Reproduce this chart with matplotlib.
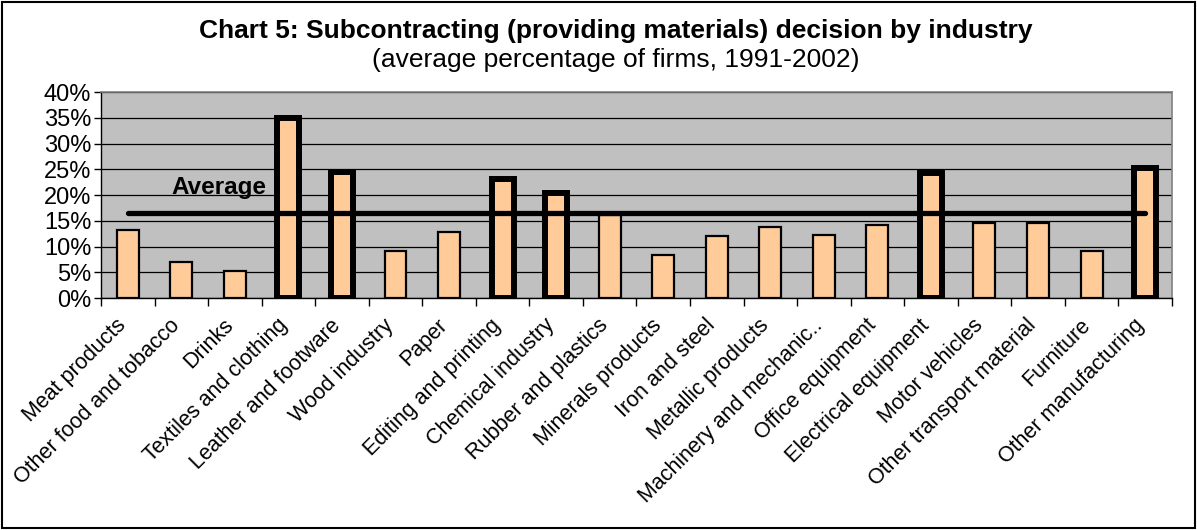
import numpy as np
import matplotlib.pyplot as plt
from matplotlib.patches import Rectangle
from matplotlib.ticker import FuncFormatter, MultipleLocator
from matplotlib.transforms import ScaledTranslation

plt.rcParams['font.family'] = ['Liberation Sans', 'DejaVu Sans']

industries = ['Meat products', 'Other food and tobacco', 'Drinks', 'Textiles and clothing',
              'Leather and footware', 'Wood industry', 'Paper', 'Editing and printing',
              'Chemical industry', 'Rubber and plastics', 'Minerals products', 'Iron and steel',
              'Metallic products', 'Machinery and mechanic..', 'Office equipment',
              'Electrical equipment', 'Motor vehicles', 'Other transport material',
              'Furniture', 'Other manufacturing']
share = [13.2, 7.0, 5.2, 35.0, 24.5, 9.1, 12.8, 23.1, 20.4, 16.1,
         8.3, 12.0, 13.8, 12.3, 14.1, 24.2, 14.6, 14.6, 9.1, 25.2]
average = 16.6

x = np.arange(len(industries))
above = [v > average for v in share]

fig = plt.figure(figsize=(11.97, 5.30), dpi=100)
ax = fig.add_axes([0.0844, 0.4377, 0.8946, 0.3887])
ax.set_facecolor('#C0C0C0')
ax.set_axisbelow(True)
ax.yaxis.grid(True, color='black', linewidth=0.9)

for xi, v, big in zip(x, share, above):
    ax.bar(xi, v, width=0.41, color='#FFCC99', edgecolor='black',
           linewidth=4.3 if big else 1.6, zorder=2)

ax.plot(x, [average] * len(x), color='black', linewidth=3.8,
        solid_capstyle='round', zorder=3)
ax.text(0.82, 20.2, 'Average', fontsize=17.5, fontweight='bold', va='baseline', zorder=4)

ax.set_xlim(-0.5, len(x) - 0.5)
ax.set_ylim(0, 40)
ax.yaxis.set_major_locator(MultipleLocator(5))
ax.yaxis.set_major_formatter(FuncFormatter(lambda v, p: f'{v:.0f}%'))
ax.tick_params(axis='y', labelsize=17, length=5, width=1, direction='out', pad=2)

ax.set_xticks(x)
ax.set_xticklabels(industries, rotation=45, ha='right', rotation_mode='anchor', fontsize=15.5)
ax.set_xticks(np.arange(-0.5, len(x)), minor=True)
ax.tick_params(axis='x', which='major', length=0, pad=10)
ax.tick_params(axis='x', which='minor', length=6, width=1, direction='out')
# nudge the slanted labels a little left of the category centres
shift = ScaledTranslation(-0.12, -0.03, fig.dpi_scale_trans)
for lbl in ax.get_xticklabels():
    lbl.set_transform(lbl.get_transform() + shift)

for side in ['top', 'right']:
    ax.spines[side].set_color('#808080')
    ax.spines[side].set_linewidth(1.2)
for side in ['left', 'bottom']:
    ax.spines[side].set_color('black')
    ax.spines[side].set_linewidth(1)

fig.text(0.514, 0.942, 'Chart 5: Subcontracting (providing materials) decision by industry',
         ha='center', va='center', fontsize=19, fontweight='bold')
fig.text(0.514, 0.886, '(average percentage of firms, 1991-2002)',
         ha='center', va='center', fontsize=19)

fig.patches.append(Rectangle((0.002, 0.003), 0.996, 0.994, transform=fig.transFigure,
                             fill=False, edgecolor='black', linewidth=1.5))

fig.savefig('out.png', dpi=100)
